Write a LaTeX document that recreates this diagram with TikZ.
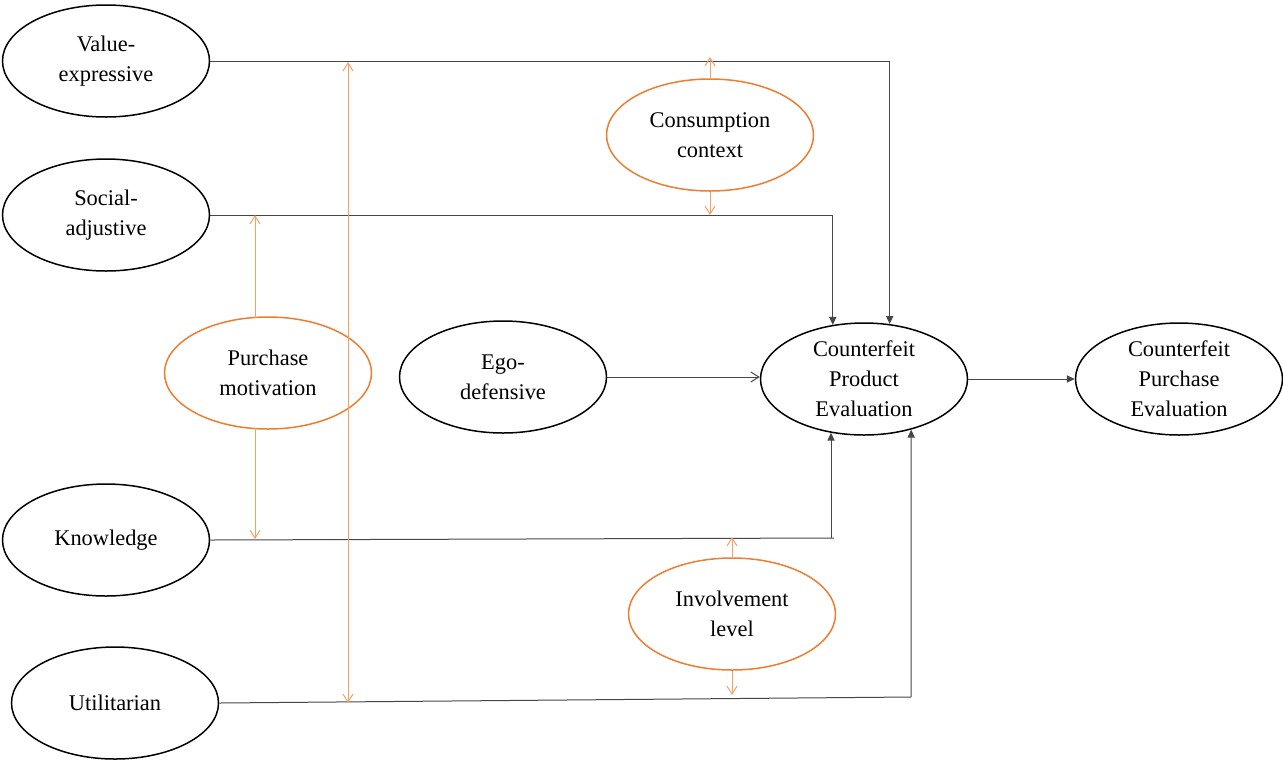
\documentclass[tikz,border=0pt]{standalone}
\usepackage{fontspec}
\setmainfont{Liberation Serif}
\usetikzlibrary{shapes.geometric,arrows.meta}
\definecolor{oedge}{RGB}{237,125,49}
\definecolor{oline}{RGB}{244,160,105}
\definecolor{lgray}{RGB}{70,70,70}
\begin{document}
\begin{tikzpicture}[x=0.5pt,y=-0.5pt,
  ell/.style={ellipse,draw=black,line width=0.75pt,minimum width=103.5pt,minimum height=56pt,inner sep=0pt,align=center,font=\fontsize{11.2}{15}\selectfont},
  oell/.style={ell,draw=oedge},
  blk/.style={draw=lgray,line width=0.5pt,-{Triangle[length=4pt,width=3.6pt]}},
  blkline/.style={draw=lgray,line width=0.5pt},
  open/.style={draw=lgray,line width=0.5pt,-{Straight Barb[length=4pt,width=5pt]}},
  oarr/.style={draw=oline,line width=0.5pt,-{Straight Barb[length=4pt,width=5pt]}},
  obarr/.style={draw=oline,line width=0.5pt,{Straight Barb[length=4pt,width=5pt]}-{Straight Barb[length=4pt,width=5pt]}}]
\useasboundingbox (0,0) rectangle (1283,761);
\node[ell] (ve) at (106,61) {Value-\\expressive};
\node[ell] (sa) at (106,215) {Social-\\adjustive};
\node[ell] (kn) at (106,540) {Knowledge};
\node[ell] (ut) at (115,703) {Utilitarian};
\node[oell] (pm) at (268,373) {Purchase\\motivation};
\node[ell] (ed) at (503,377) {Ego-\\defensive};
\node[oell] (cc) at (710,135) {Consumption\\context};
\node[ell] (cpe) at (864,379) {Counterfeit\\Product\\Evaluation};
\node[ell] (cpu) at (1179,379) {Counterfeit\\Purchase\\Evaluation};
\node[oell] (il) at (732,614) {Involvement\\level};
% black connectors
\draw[blk] (ve.east) -| (cpe.65);
\draw[blk] (sa.east) -| (cpe.120);
\coordinate (kc) at (834,538);
\draw[blkline] (kn.east) -- (kc);
\draw[blk] (kc) ++(-3,0) coordinate (kb) -- (kb |- cpe.238) ;
\coordinate (uc) at (911,697);
\draw[blkline] (ut.east) -- (uc);
\draw[blk] (uc) -- (cpe.313);
\draw[open] (ed.east) -- (ed.east -| cpe.west);
\draw[blk] (cpe.east) -- (cpu.west);
% orange connectors
\coordinate (ot) at (348,62);
\coordinate (ob) at (348,703);
\draw[obarr] (ot) -- (ob);
\coordinate (pmt) at (255,215);
\coordinate (pmb) at (255,539);
\draw[oarr] (pm.north -| pmt) ++(0,2) -- (pmt);
\draw[oarr] (pm.south -| pmb) ++(0,-2) -- (pmb);
\coordinate (cct) at (710,57);
\coordinate (ccb) at (710,215);
\draw[oarr] (cc.north) -- (cct);
\draw[oarr] (cc.south) -- (ccb);
\coordinate (ilt) at (732,537);
\coordinate (ilb) at (732,695);
\draw[oarr] (il.north) -- (ilt);
\draw[oarr] (il.south) -- (ilb);
\end{tikzpicture}
\end{document}
